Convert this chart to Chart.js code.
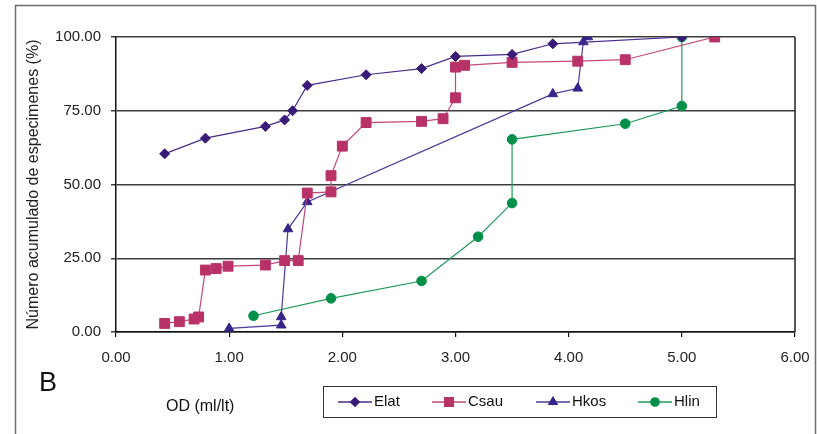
<!DOCTYPE html>
<html>
<head>
<meta charset="utf-8">
<script src="https://cdn.jsdelivr.net/npm/chart.js@4/dist/chart.umd.min.js"></script>
<style>
  html, body { margin: 0; padding: 0; background: #ffffff; }
  #wrap { position: relative; width: 817px; height: 434px; }
  canvas { display: block; }
</style>
</head>
<body>
<div id="wrap"><canvas id="c" width="817" height="434"></canvas></div>
<script>
// Cumulative number of specimens (%) against OD (ml/lt), one series per species
const elatOD  = [0.43, 0.79, 1.32, 1.49, 1.56, 1.69, 2.21, 2.70, 3.00, 3.50, 3.86, 5.00];
const elatPct = [60.4, 65.7, 69.7, 71.9, 75.0, 83.6, 87.2, 89.3, 93.4, 94.1, 97.7, 100.0];

const csauOD  = [0.43, 0.56, 0.69, 0.73, 0.79, 0.885, 0.99, 1.32, 1.49, 1.61, 1.69, 1.90, 1.90, 2.00, 2.21, 2.70, 2.89, 3.00, 3.00, 3.08, 3.50, 4.08, 4.50, 5.29];
const csauPct = [2.9, 3.5, 4.4, 5.1, 21.0, 21.5, 22.3, 22.7, 24.2, 24.2, 47.1, 47.5, 53.0, 63.0, 71.0, 71.4, 72.3, 79.4, 89.8, 90.4, 91.4, 91.8, 92.3, 100.0];

const hkosOD  = [1.00, 1.46, 1.46, 1.52, 1.69, 3.86, 4.08, 4.13, 4.17];
const hkosPct = [1.2, 2.3, 5.1, 34.9, 44.1, 80.7, 82.6, 98.3, 100.0];

const hlinOD  = [1.215, 1.90, 2.70, 3.20, 3.50, 3.50, 4.50, 5.00, 5.00];
const hlinPct = [5.5, 11.4, 17.3, 32.3, 43.7, 65.3, 70.6, 76.6, 100.0];

const xTicks = [0, 1, 2, 3, 4, 5, 6];
const yTicks = [0, 25, 50, 75, 100];

const FONT = '"Liberation Sans", Arial, sans-serif';

function pts(xs, ys) { return xs.map((x, i) => ({ x: x, y: ys[i] })); }

function series(label, xs, ys, lineColor, pointColor, style, radius) {
  return {
    label: label,
    data: pts(xs, ys),
    showLine: true,
    borderColor: lineColor,
    borderWidth: 1.2,
    backgroundColor: pointColor,
    pointBackgroundColor: pointColor,
    pointBorderColor: pointColor,
    pointBorderWidth: 1,
    pointStyle: style,
    pointRadius: radius,
    pointHoverRadius: radius,
    tension: 0
  };
}

const datasets = [
  series('Elat', elatOD, elatPct, '#4a2c8c', '#3a1a78', 'rectRot', 5),
  series('Csau', csauOD, csauPct, '#c4467c', '#b83268', 'rect', 7),
  series('Hkos', hkosOD, hkosPct, '#4b3a98', '#36248a', 'triangle', 5.5),
  series('Hlin', hlinOD, hlinPct, '#1e9a5a', '#00904a', 'circle', 4.8)
];

// Outer frame, right border of the plot, panel letter, x-axis caption and boxed legend
const decorations = {
  id: 'decorations',
  beforeDraw(chart) {
    const ctx = chart.ctx;
    ctx.save();
    ctx.fillStyle = '#ffffff';
    ctx.fillRect(0, 0, chart.width, chart.height);
    ctx.restore();
  },
  afterDraw(chart) {
    const ctx = chart.ctx;
    const a = chart.chartArea;
    ctx.save();
    // outer frame
    ctx.strokeStyle = '#6e6e6e';
    ctx.lineWidth = 1.5;
    ctx.beginPath();
    ctx.moveTo(15.5, 440);
    ctx.lineTo(15.5, 5.5);
    ctx.lineTo(815.5, 5.5);
    ctx.lineTo(815.5, 440);
    ctx.stroke();

    // right edge of plot area
    ctx.strokeStyle = '#222222';
    ctx.lineWidth = 1.5;
    ctx.beginPath();
    ctx.moveTo(a.right, a.top);
    ctx.lineTo(a.right, a.bottom);
    ctx.stroke();

    // panel letter
    ctx.fillStyle = '#111111';
    ctx.font = '27px ' + FONT;
    ctx.textAlign = 'left';
    ctx.textBaseline = 'middle';
    ctx.fillText('B', 39, 384);

    // x-axis caption
    ctx.font = '16px ' + FONT;
    ctx.fillText('OD (ml/lt)', 166, 407);

    // legend box
    const box = { x: 323.5, y: 386.5, w: 393, h: 31 };
    ctx.strokeStyle = '#333333';
    ctx.lineWidth = 1;
    ctx.strokeRect(box.x, box.y, box.w, box.h);
    const starts = [338, 432, 536, 638];
    const cy = box.y + box.h / 2;
    chart.data.datasets.forEach((ds, i) => {
      const x0 = starts[i];
      ctx.strokeStyle = ds.borderColor;
      ctx.lineWidth = 1.5;
      ctx.beginPath();
      ctx.moveTo(x0, cy);
      ctx.lineTo(x0 + 34, cy);
      ctx.stroke();
      ctx.fillStyle = ds.pointBackgroundColor;
      ctx.strokeStyle = ds.pointBorderColor;
      Chart.helpers.drawPoint(ctx, {
        pointStyle: ds.pointStyle,
        radius: ds.pointRadius * 0.85,
        rotation: 0,
        borderWidth: 1
      }, x0 + 17, cy);
      ctx.fillStyle = '#111111';
      ctx.font = '15px ' + FONT;
      ctx.textBaseline = 'middle';
      ctx.fillText(ds.label, x0 + 36, cy);
    });
    ctx.restore();
  }
};

new Chart(document.getElementById('c'), {
  type: 'scatter',
  data: { datasets: datasets },
  options: {
    responsive: false,
    animation: false,
    events: [],
    layout: { padding: { left: 0, right: 22, top: 37, bottom: 0 } },
    plugins: {
      legend: { display: false },
      tooltip: { enabled: false },
      title: { display: false }
    },
    scales: {
      x: {
        type: 'linear',
        min: 0,
        max: 6,
        afterFit(scale) {
          scale.height = 102;
          scale.paddingLeft = 0;
          scale.paddingRight = 0;
        },
        afterBuildTicks(scale) { scale.ticks = xTicks.map(v => ({ value: v })); },
        border: { display: true, color: '#111111', width: 1.5 },
        grid: {
          drawOnChartArea: false,
          drawTicks: true,
          tickLength: 5,
          color: '#111111',
          lineWidth: 1.2
        },
        ticks: {
          padding: 12,
          color: '#222222',
          font: { family: FONT, size: 15 },
          callback: v => Number(v).toFixed(2)
        }
      },
      y: {
        type: 'linear',
        min: 0,
        max: 100,
        afterFit(scale) {
          scale.width = 116;
          scale.paddingTop = 0;
          scale.paddingBottom = 0;
        },
        afterBuildTicks(scale) { scale.ticks = yTicks.map(v => ({ value: v })); },
        border: { display: true, color: '#111111', width: 1.5 },
        grid: {
          drawOnChartArea: true,
          drawTicks: true,
          tickLength: 5,
          color: '#3c3c3c',
          lineWidth: 1.5
        },
        ticks: {
          padding: 10,
          color: '#222222',
          font: { family: FONT, size: 15 },
          callback: v => Number(v).toFixed(2)
        },
        title: {
          display: true,
          text: 'Número acumulado de especimenes (%)',
          color: '#222222',
          font: { family: FONT, size: 16 },
          padding: { top: 24, bottom: 0 }
        }
      }
    }
  },
  plugins: [decorations]
});
</script>
</body>
</html>
